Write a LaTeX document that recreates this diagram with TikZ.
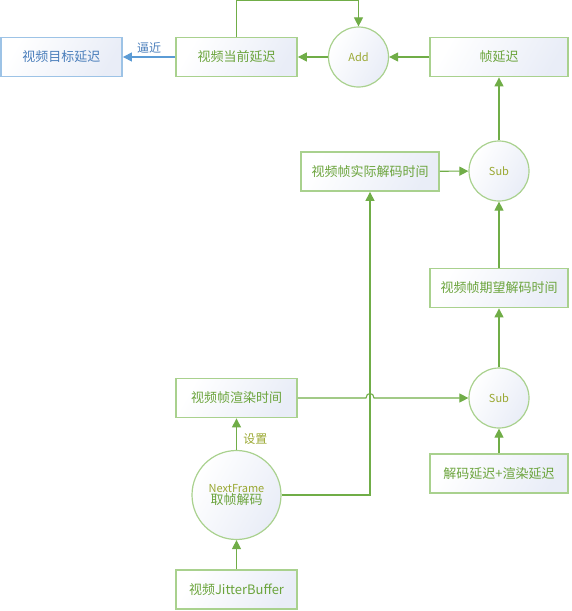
\documentclass[tikz,border=0pt]{standalone}
\usepackage{fontspec}
\setmainfont{Noto Sans CJK SC}
\usetikzlibrary{arrows.meta}

\definecolor{lineGreen}{HTML}{70AD47}
\definecolor{boxGreen}{HTML}{A9D18E}
\definecolor{textGreen}{HTML}{6BA43C}
\definecolor{opGreen}{HTML}{9AA832}
\definecolor{lineBlue}{HTML}{5B9BD5}
\definecolor{boxBlue}{HTML}{9DC3E6}
\definecolor{textBlue}{HTML}{4A7EBB}
\definecolor{boxFill}{HTML}{E9EDF7}

\tikzset{
    box/.style={draw=boxGreen, line width=1.8pt, left color=boxFill, right color=white,
        shading angle=240, text=textGreen,
        minimum width=121pt, minimum height=39pt, inner sep=0pt,
        font=\fontsize{13}{15}\selectfont},
    wideBox/.style={box, minimum width=138pt},
    op/.style={circle, draw=boxGreen, line width=1.2pt, left color=boxFill, right color=white,
        shading angle=240, text=opGreen,
        minimum size=60pt, inner sep=0pt, font=\fontsize{11}{13}\selectfont},
    link/.style={draw=lineGreen, line width=1.1pt, -{Triangle[length=9pt,width=9pt]}},
}

\begin{document}
\begin{tikzpicture}[x=1pt, y=-1pt]
    % Globals
    \pgfmathsetmacro{\rowTop}{57}
    \pgfmathsetmacro{\colLeft}{236.5}
    \pgfmathsetmacro{\colRight}{499}

    \useasboundingbox (0,0) rectangle (571,611);

    % top row
    \node[box, draw=boxBlue, text=textBlue] (TARGET) at (61.5, \rowTop) {视频目标延迟};
    \node[box] (CUR) at (\colLeft, \rowTop) {视频当前延迟};
    \node[op] (ADD) at (358.5, \rowTop) {Add};
    \node[wideBox] (FRAME_DELAY) at (\colRight, \rowTop) {帧延迟};

    % right column
    \node[op] (SUB_TOP) at (\colRight, 171) {Sub};
    \node[wideBox] (REAL_DEC) at (370, 171.5) {视频帧实际解码时间};
    \node[wideBox] (EXP_DEC) at (\colRight, 288) {视频帧期望解码时间};
    \node[op] (SUB_BOT) at (\colRight, 398) {Sub};
    \node[wideBox] (DELAYS) at (\colRight, 473.5) {解码延迟+渲染延迟};

    % left column
    \node[box] (RENDER) at (\colLeft, 398) {视频帧渲染时间};
    \node[op, minimum size=89pt, align=center] (NEXT) at (\colLeft, 495)
        {NextFrame\\[-1pt]{\fontsize{13}{15}\selectfont\color{textGreen}取帧解码}};
    \node[box] (JITTER) at (\colLeft, 589.5) {视频JitterBuffer};

    \coordinate (JUMP) at (370, 398);

    \draw[link] (JITTER) -- (NEXT);
    \draw[link] (NEXT) -- node[pos=0.35, right=3pt, text=opGreen,
        font=\fontsize{12}{14}\selectfont]{设置} (RENDER);
    \draw[link] (NEXT.east) -| (REAL_DEC.south);
    \draw[link] (RENDER.east) -- ([xshift=-4pt]JUMP)
        .. controls ([xshift=-4pt, yshift=6pt]JUMP) and ([xshift=4pt, yshift=6pt]JUMP) .. ([xshift=4pt]JUMP)
        -- (SUB_BOT.west);
    \draw[link] (DELAYS) -- (SUB_BOT);
    \draw[link] (SUB_BOT) -- (EXP_DEC);
    \draw[link] (EXP_DEC) -- (SUB_TOP);
    \draw[link] (REAL_DEC) -- (SUB_TOP);
    \draw[link] (SUB_TOP) -- (FRAME_DELAY);
    \draw[link] (FRAME_DELAY) -- (ADD);
    \draw[link] (ADD) -- (CUR);
    \draw[link] (CUR.north) -- ++(0,-36) -| (ADD.north);
    \draw[link, draw=lineBlue] (CUR) -- node[above, text=textBlue,
        font=\fontsize{12}{14}\selectfont]{逼近} (TARGET);

\end{tikzpicture}
\end{document}
